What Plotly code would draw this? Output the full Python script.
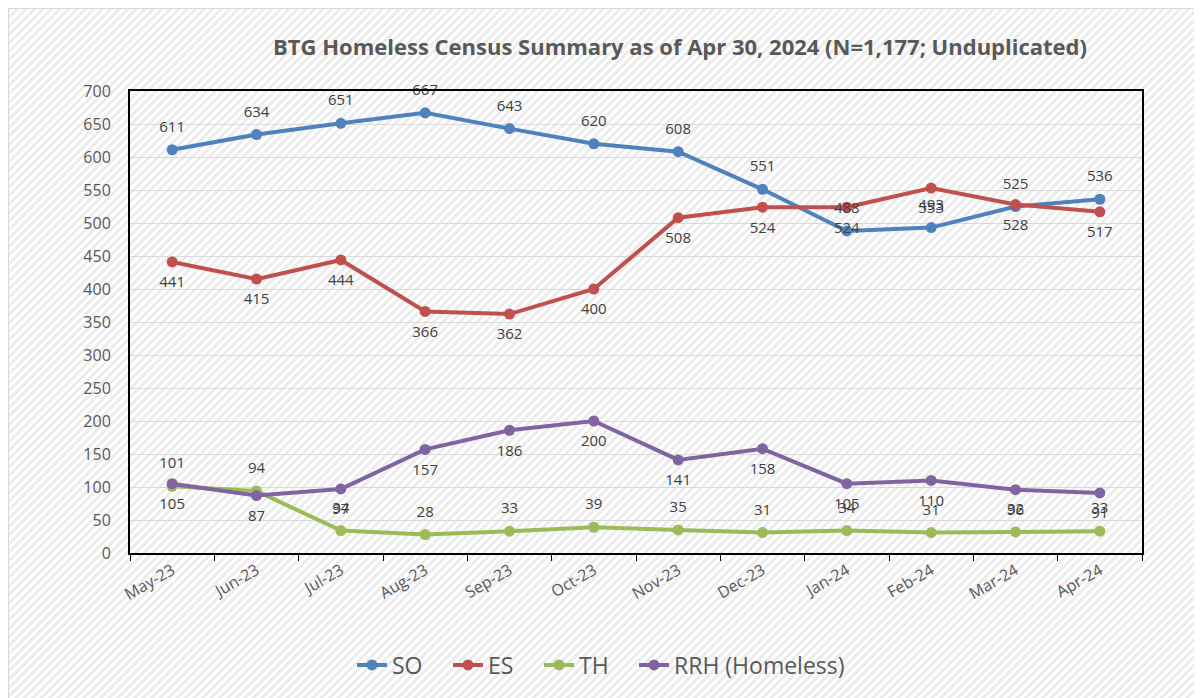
import base64
import plotly.graph_objects as go

months = ["May-23", "Jun-23", "Jul-23", "Aug-23", "Sep-23", "Oct-23",
          "Nov-23", "Dec-23", "Jan-24", "Feb-24", "Mar-24", "Apr-24"]
so = [611, 634, 651, 667, 643, 620, 608, 551, 488, 493, 525, 536]
es = [441, 415, 444, 366, 362, 400, 508, 524, 524, 553, 528, 517]
th = [101, 94, 34, 28, 33, 39, 35, 31, 34, 31, 32, 33]
rrh = [105, 87, 97, 157, 186, 200, 141, 158, 105, 110, 96, 91]

series = [
    ("SO", so, "#4F81BD", "top center"),
    ("ES", es, "#C0504D", "bottom center"),
    ("TH", th, "#9BBB59", "top center"),
    ("RRH (Homeless)", rrh, "#8064A2", "bottom center"),
]
legend_left_px = [352, 448, 539, 634]

# page body has an 8px margin, so the figure starts at (8, 8)
OFF = 8
W, H = 1202 - OFF, 698 - OFF
L, R, T, B = 130 - OFF, 60, 91 - OFF, 145
PW, PH = W - L - R, H - T - B

FONT = "Open Sans"
GRAY = "#595959"

fig = go.Figure()
legend_names = ["legend", "legend2", "legend3", "legend4"]
for (name, vals, color, pos), lg in zip(series, legend_names):
    fig.add_trace(go.Scatter(
        x=months, y=vals, name=name, mode="lines+markers",
        line=dict(color=color, width=4),
        marker=dict(color=color, size=11),
        legend=lg,
    ))
for name, vals, color, pos in series:
    fig.add_trace(go.Scatter(
        x=months, y=vals, mode="markers+text", showlegend=False,
        text=[str(v) for v in vals], textposition=pos,
        textfont=dict(family=FONT, size=15, color="#404040"),
        marker=dict(size=21, color="rgba(0,0,0,0)"),
        cliponaxis=False, hoverinfo="skip",
    ))

svg = (f'<svg xmlns="http://www.w3.org/2000/svg" width="{W}" height="{H}">'
       '<defs><pattern id="p" width="6" height="6" patternUnits="userSpaceOnUse" '
       'patternTransform="rotate(45)"><rect width="6" height="6" fill="#ffffff"/>'
       '<rect width="3" height="6" fill="#ececec"/></pattern></defs>'
       f'<rect width="{W}" height="{H}" fill="url(#p)"/></svg>')
src = "data:image/svg+xml;base64," + base64.b64encode(svg.encode()).decode()

legends = {}
for lg, px in zip(legend_names, legend_left_px):
    legends[lg] = dict(
        orientation="h", x=(px - 130) / PW, xanchor="left",
        y=(553 - 665) / PH, yanchor="middle",
        font=dict(family=FONT, size=23, color=GRAY),
        bgcolor="rgba(0,0,0,0)",
    )

fig.update_layout(
    width=W, height=H,
    margin=dict(l=L, r=R, t=T, b=B),
    paper_bgcolor="white",
    plot_bgcolor="rgba(0,0,0,0)",
    font=dict(family=FONT, color=GRAY),
    title=dict(
        text="<b>BTG Homeless Census Summary as of Apr 30, 2024 (N=1,177; Unduplicated)</b>",
        x=(680 - OFF) / W, xanchor="center", xref="container",
        y=1 - (47 - OFF) / H, yanchor="middle", yref="container",
        font=dict(family=FONT, size=22, color=GRAY),
    ),
    xaxis=dict(
        type="category", range=[-0.5, 11.5],
        showgrid=False, showline=True, mirror=True,
        linecolor="black", linewidth=2,
        ticks="outside", tickson="boundaries", ticklen=6, tickcolor="black",
        tickangle=-30, tickfont=dict(family=FONT, size=16, color=GRAY),
    ),
    yaxis=dict(
        range=[0, 700], dtick=50, tick0=0,
        showgrid=True, gridcolor="#d9d9d9", gridwidth=1,
        showline=True, mirror=True, linecolor="black", linewidth=2,
        ticks="", ticklabelstandoff=14,
        tickfont=dict(family=FONT, size=16, color=GRAY),
        zeroline=False,
    ),
    images=[dict(
        source=src, xref="paper", yref="paper",
        x=-L / PW, y=1 + T / PH, sizex=W / PW, sizey=H / PH,
        xanchor="left", yanchor="top", sizing="stretch", layer="below",
    )],
    shapes=[dict(
        type="rect", xref="paper", yref="paper",
        x0=(0.5 - L) / PW, x1=(W + 10 - L) / PW,
        y0=-(B + 10) / PH, y1=1 + (T - 0.5) / PH,
        line=dict(color="#d9d9d0", width=1), fillcolor="rgba(0,0,0,0)",
        layer="below",
    )],
    showlegend=True,
    **legends,
)

fig.write_html("out.html")
